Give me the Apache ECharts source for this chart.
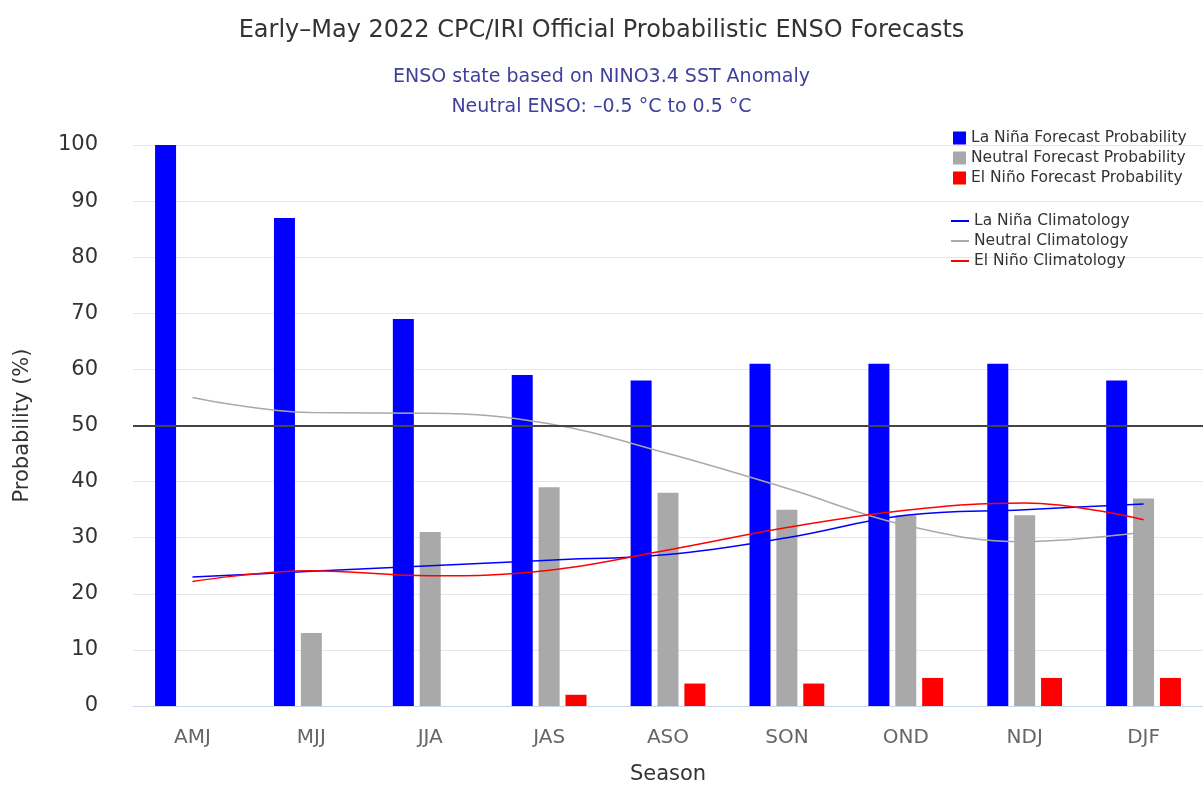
<!DOCTYPE html>
<html><head><meta charset="utf-8">
<script src="https://cdn.jsdelivr.net/npm/echarts@6/dist/echarts.min.js"></script>
<style>html,body{margin:0;padding:0;background:#fff;overflow:hidden}#c{width:1203px;height:790px}</style>
</head><body><div id="c"></div>
<script>
const seasons = ['AMJ','MJJ','JJA','JAS','ASO','SON','OND','NDJ','DJF'];
const laninaProb = [100, 87, 69, 59, 58, 61, 61, 61, 58];
const neutralProb = [0, 13, 31, 39, 38, 35, 34, 34, 37];
const elninoProb = [0, 0, 0, 2, 4, 4, 5, 5, 5];
const laninaClim = [23, 24, 25, 26, 27, 30, 34, 35, 36];
const neutralClim = [55, 52.3, 52.2, 50.3, 45, 38.8, 32.2, 29.3, 31];
const elninoClim = [22.2, 24.1, 23.2, 24.2, 27.8, 31.8, 34.9, 36.2, 33.2];
const yTicks = [0, 10, 20, 30, 40, 50, 60, 70, 80, 90, 100];

const font = '"DejaVu Sans", sans-serif';
const chart = echarts.init(document.getElementById('c'), null, {renderer: 'canvas', width: 1203, height: 790});
chart.setOption({
  animation: false,
  textStyle: {fontFamily: font},
  title: [
    {text: 'Early\u2013May 2022 CPC/IRI Official Probabilistic ENSO Forecasts', left: 'center', top: 14,
     textStyle: {fontSize: 24, fontWeight: 'normal', color: '#333', fontFamily: font}},
    {text: 'ENSO state based on NINO3.4 SST Anomaly\nNeutral ENSO: \u20130.5 \u00B0C to 0.5 \u00B0C', left: 'center', top: 57,
     textStyle: {fontSize: 19, fontWeight: 'normal', color: '#3f3f9c', lineHeight: 30, fontFamily: font}}
  ],
  legend: [
    {data: ['La Niña Forecast Probability', 'Neutral Forecast Probability', 'El Niño Forecast Probability'],
     orient: 'vertical', left: 948, top: 125, itemWidth: 13, itemHeight: 13, itemGap: 4, icon: 'rect',
     textStyle: {fontSize: 15.5, color: '#333', fontFamily: font}},
    {data: ['La Niña Climatology', 'Neutral Climatology', 'El Niño Climatology'],
     orient: 'vertical', left: 946, top: 208, itemWidth: 18, itemHeight: 2, itemGap: 4, icon: 'rect',
     textStyle: {fontSize: 15.5, color: '#333', fontFamily: font}}
  ],
  grid: {left: 133, width: 1070, top: 145, height: 564, containLabel: false},
  xAxis: {
    type: 'category', data: seasons, name: 'Season', nameLocation: 'middle', nameGap: 58,
    nameTextStyle: {fontSize: 21, color: '#333'},
    axisLine: {lineStyle: {color: '#ccd6eb'}}, axisTick: {show: false},
    axisLabel: {fontSize: 20, color: '#666', margin: 22}
  },
  yAxis: {
    type: 'value', min: 0, max: 100, interval: 10, name: 'Probability (%)', nameLocation: 'middle', nameGap: 100,
    nameTextStyle: {fontSize: 21, color: '#333'},
    axisLine: {show: false}, axisTick: {show: false},
    axisLabel: {fontSize: 21, color: '#333', margin: 35, formatter: v => yTicks.includes(v) ? String(v) : ''},
    splitLine: {lineStyle: {color: '#e6e6e6', width: 1}}
  },
  series: [
    {name: 'La Niña Forecast Probability', type: 'bar', data: laninaProb, barWidth: 21, barGap: '28%',
     itemStyle: {color: '#0000ff'},
     markLine: {silent: true, symbol: 'none', label: {show: false}, lineStyle: {color: '#444', width: 2, type: 'solid'},
       data: [{yAxis: 50}]}},
    {name: 'Neutral Forecast Probability', type: 'bar', data: neutralProb, barWidth: 21, barGap: '28%',
     itemStyle: {color: '#a9a9a9'}},
    {name: 'El Niño Forecast Probability', type: 'bar', data: elninoProb, barWidth: 21, barGap: '28%',
     itemStyle: {color: '#ff0000'}},
    {name: 'La Niña Climatology', type: 'line', data: laninaClim, smooth: 0.4, symbol: 'none',
     lineStyle: {color: '#0000ff', width: 1.5}, itemStyle: {color: '#0000ff'}},
    {name: 'Neutral Climatology', type: 'line', data: neutralClim, smooth: 0.4, symbol: 'none',
     lineStyle: {color: '#a9a9a9', width: 1.5}, itemStyle: {color: '#a9a9a9'}},
    {name: 'El Niño Climatology', type: 'line', data: elninoClim, smooth: 0.4, symbol: 'none',
     lineStyle: {color: '#ff0000', width: 1.5}, itemStyle: {color: '#ff0000'}}
  ]
});
</script></body></html>
